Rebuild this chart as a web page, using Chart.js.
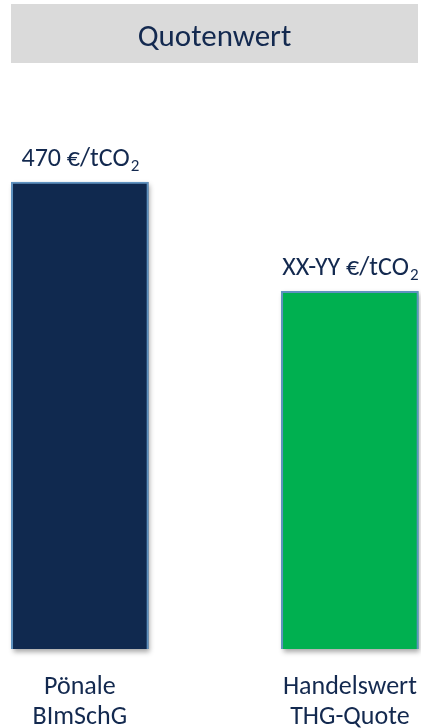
<!DOCTYPE html>
<html>
<head>
<meta charset="utf-8">
<script src="https://cdn.jsdelivr.net/npm/chart.js@4"></script>
<style>
  html, body { margin: 0; padding: 0; background: #ffffff; }
  #wrap { position: relative; width: 421px; height: 728px; }
</style>
</head>
<body>
<div id="wrap"><canvas id="chart" width="421" height="728"></canvas></div>
<script>
// Chart data
const chartTitle = 'Quotenwert';
const categories = [['Pönale', 'BImSchG'], ['Handelswert', 'THG-Quote']];
const values = [470, 360];
const priceLabels = ['470', 'XX-YY'];
const unitLabel = ' €/tCO';
const unitSubscript = '2';
const barColors = ['#10294f', '#00b050'];

const FONT = 'Calibri, Carlito, Lato, sans-serif';
const NAVY = '#13294f';

// Grey header band with the chart title
const headerPlugin = {
  id: 'header',
  beforeDraw(chart) {
    const ctx = chart.ctx;
    ctx.save();
    ctx.fillStyle = '#dadada';
    ctx.fillRect(11, 4, 407, 59);
    ctx.fillStyle = NAVY;
    ctx.font = '31px ' + FONT;
    ctx.textAlign = 'center';
    ctx.textBaseline = 'alphabetic';
    ctx.fillText(chartTitle, 214.5, 45.5);
    ctx.restore();
  }
};

// Soft drop shadow behind each bar
const shadowPlugin = {
  id: 'barShadow',
  beforeDatasetsDraw(chart) {
    const ctx = chart.ctx;
    const meta = chart.getDatasetMeta(0);
    ctx.save();
    ctx.shadowColor = 'rgba(0,0,0,0.35)';
    ctx.shadowBlur = 5;
    ctx.shadowOffsetX = 2;
    ctx.shadowOffsetY = 3;
    meta.data.forEach((bar, i) => {
      const p = bar.getProps(['x', 'y', 'base', 'width'], true);
      ctx.fillStyle = barColors[i];
      ctx.fillRect(p.x - p.width / 2, p.y, p.width, p.base - p.y);
    });
    ctx.restore();
  }
};

// Price labels above the bars, with subscript unit digit
const priceLabelPlugin = {
  id: 'priceLabels',
  afterDatasetsDraw(chart) {
    const ctx = chart.ctx;
    const meta = chart.getDatasetMeta(0);
    ctx.save();
    ctx.fillStyle = NAVY;
    ctx.textBaseline = 'alphabetic';
    ctx.textAlign = 'left';
    meta.data.forEach((bar, i) => {
      const main = priceLabels[i] + unitLabel;
      ctx.font = '26px ' + FONT;
      const wMain = ctx.measureText(main).width;
      ctx.font = '17px ' + FONT;
      const wSub = ctx.measureText(unitSubscript).width;
      const x0 = bar.x - (wMain + wSub) / 2;
      const baseY = bar.y - 16;
      ctx.font = '26px ' + FONT;
      ctx.fillText(main, x0, baseY);
      ctx.font = '17px ' + FONT;
      ctx.fillText(unitSubscript, x0 + wMain + 1, baseY + 5);
    });
    ctx.restore();
  }
};

new Chart(document.getElementById('chart'), {
  type: 'bar',
  data: {
    datasets: [{
      data: values.map((v, i) => ({ x: i, y: v })),
      backgroundColor: barColors,
      borderColor: '#5f92c0',
      borderWidth: 2,
      barThickness: 137,
      clip: false
    }]
  },
  options: {
    responsive: false,
    animation: false,
    devicePixelRatio: 1,
    layout: { padding: { top: 182, left: 11, right: 2, bottom: 0 } },
    plugins: {
      legend: { display: false },
      tooltip: { enabled: false },
      title: { display: false }
    },
    scales: {
      x: {
        type: 'linear',
        offset: false,
        min: -0.255,
        max: 1.256,
        grid: { display: false, drawTicks: false, offset: false },
        border: { display: false },
        afterBuildTicks(axis) {
          axis.ticks = categories.map((_, i) => ({ value: i }));
        },
        afterFit(axis) {
          axis.height = 79;
          axis.paddingLeft = 0;
          axis.paddingRight = 0;
        },
        ticks: {
          padding: 23,
          color: NAVY,
          font: { family: FONT, size: 26, lineHeight: 1.16 },
          autoSkip: false,
          maxRotation: 0,
          callback: (v) => categories[v]
        }
      },
      y: {
        display: false,
        min: 0,
        max: 470
      }
    }
  },
  plugins: [headerPlugin, shadowPlugin, priceLabelPlugin]
});
</script>
</body>
</html>
